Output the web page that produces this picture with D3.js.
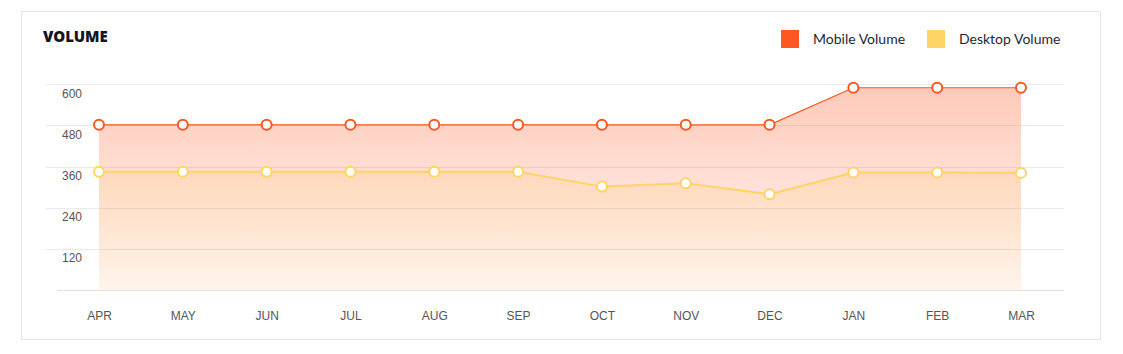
<!DOCTYPE html>
<html><head><meta charset="utf-8">
<script src="https://cdn.jsdelivr.net/npm/d3@7/dist/d3.min.js"></script>
<style>
html,body{margin:0;padding:0;background:#fff;}
svg{display:block;}
</style></head>
<body>
<svg id="chart" width="1123" height="354"></svg>
<script>
const months = ["APR","MAY","JUN","JUL","AUG","SEP","OCT","NOV","DEC","JAN","FEB","MAR"];
const mobileVolume = [482,482,482,482,482,482,482,482,482,590,590,590];
const desktopVolume = [345,345,345,345,345,345,302,312,280,343,343,342];
const yTicks = [120,240,360,480,600];
const seriesNames = ["Mobile Volume","Desktop Volume"];
const seriesColors = ["#ff5722","#ffd466"];

const svg = d3.select("#chart");
// card border
svg.append("rect").attr("x",21.5).attr("y",11.5).attr("width",1079).attr("height",328)
  .attr("fill","#fff").attr("stroke","#e4e4ea").attr("stroke-width",1);

svg.append("text").attr("x",43).attr("y",42).text("VOLUME")
  .attr("font-family","'Open Sans', Lato, sans-serif").attr("font-weight",800)
  .attr("font-size",15).attr("fill","#151520").attr("letter-spacing",-0.1);

const x = d3.scalePoint().domain(months).range([99,1021]);
const y = d3.scaleLinear().domain([0,600]).range([290.3,84.3]);

// gradients
const defs = svg.append("defs");
function grad(id,color,o1,o2){
  const g = defs.append("linearGradient").attr("id",id).attr("gradientUnits","userSpaceOnUse")
    .attr("x1",0).attr("x2",0).attr("y1",y(600)).attr("y2",y(0));
  g.append("stop").attr("offset","0%").attr("stop-color",color).attr("stop-opacity",o1);
  g.append("stop").attr("offset","100%").attr("stop-color",color).attr("stop-opacity",o2);
}
grad("gm","#ff5722",0.32,0.04);
grad("gd","#ffc766",0.30,0.07);

// grid
const grid = svg.append("g");
grid.selectAll("line.g").data(yTicks).join("line")
  .attr("x1",46).attr("x2",1064).attr("y1",d=>Math.round(y(d))+0.5).attr("y2",d=>Math.round(y(d))+0.5)
  .attr("stroke","#e9e9ee").attr("stroke-width",1);
grid.append("line").attr("x1",57).attr("x2",1064).attr("y1",Math.round(y(0))+0.5).attr("y2",Math.round(y(0))+0.5)
  .attr("stroke","#e2e2e6");

// areas
const area = d3.area().x((d,i)=>x(months[i])).y0(y(0)).y1(d=>y(d));
svg.append("path").datum(mobileVolume).attr("d",area).attr("fill","url(#gm)");
svg.append("path").datum(desktopVolume).attr("d",area).attr("fill","url(#gd)");

// lines
const line = d3.line().x((d,i)=>x(months[i])).y(d=>y(d));
svg.append("path").datum(mobileVolume).attr("d",line).attr("fill","none").attr("stroke",seriesColors[0]).attr("stroke-width",1.2);
svg.append("path").datum(desktopVolume).attr("d",line).attr("fill","none").attr("stroke",seriesColors[1]).attr("stroke-width",2);

// points
[[mobileVolume,seriesColors[0]],[desktopVolume,seriesColors[1]]].forEach(([vals,c])=>{
  svg.append("g").selectAll("circle").data(vals).join("circle")
    .attr("cx",(d,i)=>x(months[i])).attr("cy",d=>y(d)).attr("r",5)
    .attr("fill","#fff").attr("stroke",c).attr("stroke-width",2);
});

// y axis labels
const yAxis = d3.axisLeft(y).tickValues(yTicks).tickSize(0).tickPadding(0);
const ya = svg.append("g").attr("transform","translate(82,9)").call(yAxis);
ya.select(".domain").remove();
ya.selectAll("text").attr("font-family","'Liberation Sans', Arial, sans-serif").attr("font-size",12).attr("fill","#555");

// x axis labels
const xAxis = d3.axisBottom(x).tickSize(0).tickPadding(0);
const xa = svg.append("g").attr("transform","translate(0,311)").call(xAxis);
xa.select(".domain").remove();
xa.selectAll("text").attr("font-family","'Liberation Sans', Arial, sans-serif").attr("font-size",12).attr("fill","#555");

// legend
const legX = [781,927];
seriesNames.forEach((n,i)=>{
  svg.append("rect").attr("x",legX[i]).attr("y",30).attr("width",18).attr("height",18).attr("fill",seriesColors[i]);
  svg.append("text").attr("x",legX[i]+32).attr("y",43.5).text(n)
    .attr("font-family","Lato, 'Open Sans', sans-serif").attr("font-size",14).attr("fill","#1f1f33");
});
</script>
</body></html>
